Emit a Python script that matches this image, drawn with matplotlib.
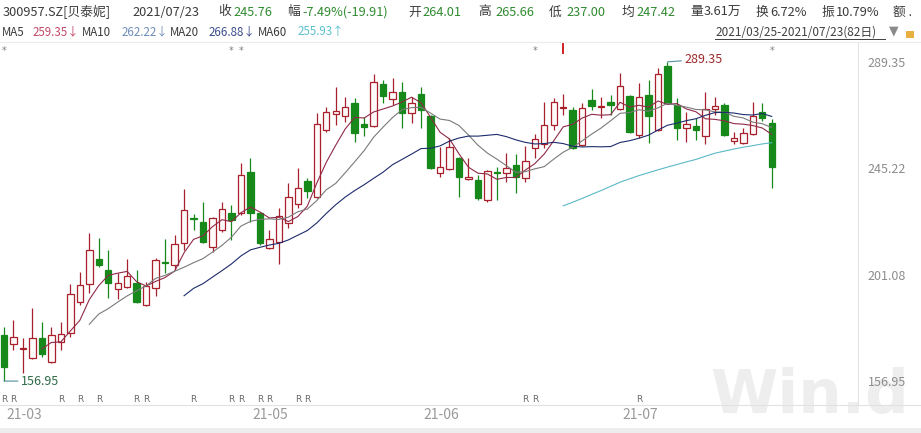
import numpy as np
import pandas as pd
import matplotlib
matplotlib.use('Agg')
import matplotlib.pyplot as plt
import matplotlib.transforms as mtransforms

plt.rcParams['font.family'] = ['Noto Sans CJK SC', 'DejaVu Sans']

# daily prices, 2021/03/25 - 2021/07/23 (82 days)
opens = [176.07, 172.34, 170.06, 166.53, 174.83, 164.87, 173.17, 176.90, 189.76, 197.23,
         207.60, 203.03, 195.15, 195.98, 197.64, 188.52, 195.57, 206.15, 205.11, 214.23,
         224.39, 222.94, 212.57, 219.63, 226.68, 226.68, 243.68, 226.68, 212.16, 214.65,
         222.53, 230.41, 239.95, 233.31, 261.11, 267.74, 266.91, 272.31, 263.60, 262.77,
         280.19, 273.96, 276.87, 268.16, 276.04, 266.91, 243.27, 244.93, 249.49, 240.78,
         240.37, 232.07, 243.48, 243.27, 246.59, 241.19, 253.64, 255.30, 263.18, 270.02,
         269.40, 254.88, 273.55, 270.44, 272.72, 269.82, 275.21, 259.03, 275.62, 261.11,
         287.65, 271.48, 261.94, 262.77, 258.62, 269.82, 271.48, 256.54, 255.71, 259.45,
         268.57, 264.01]
highs = [179.39, 182.29, 174.83, 187.27, 181.46, 179.39, 181.46, 197.23, 202.20, 218.38,
         216.31, 211.33, 201.79, 207.60, 203.03, 198.06, 208.01, 215.89, 217.55, 236.63,
         226.26, 231.24, 225.00, 231.24, 230.00, 247.42, 249.49, 227.10, 219.63, 228.75,
         239.12, 245.34, 241.19, 268.16, 270.65, 278.94, 274.79, 274.38, 266.50, 284.33,
         281.85, 282.68, 281.02, 274.79, 278.94, 267.30, 254.05, 257.79, 249.80, 249.49,
         242.44, 244.50, 245.76, 251.57, 251.15, 254.47, 259.45, 272.72, 274.38, 276.04,
         270.65, 272.31, 278.11, 274.79, 275.62, 284.75, 275.62, 280.60, 281.85, 286.82,
         289.35, 274.38, 268.57, 266.08, 276.87, 274.79, 272.31, 260.28, 261.94, 272.72,
         272.31, 265.66]
lows = [156.95, 169.85, 160.31, 166.20, 166.95, 164.46, 169.85, 175.24, 188.52, 193.50,
        204.28, 191.42, 191.00, 195.60, 189.35, 188.20, 192.25, 201.79, 203.03, 211.33,
        219.63, 214.23, 210.50, 218.80, 215.48, 225.85, 222.94, 213.40, 211.74, 205.52,
        220.46, 228.75, 232.90, 233.00, 260.28, 263.18, 264.42, 256.13, 258.62, 262.40,
        272.31, 271.48, 261.94, 264.01, 261.94, 245.00, 241.61, 244.60, 233.31, 240.37,
        232.07, 231.24, 232.07, 239.54, 234.97, 239.54, 249.49, 253.64, 261.11, 267.33,
        253.20, 254.47, 269.40, 266.08, 267.33, 269.40, 259.90, 257.79, 255.71, 260.70,
        272.00, 256.96, 256.13, 256.96, 255.30, 267.33, 258.62, 255.30, 255.30, 259.10,
        264.84, 237.00]
closes = [162.80, 175.24, 170.48, 174.83, 168.19, 176.07, 176.49, 193.08, 196.81, 211.33,
          205.11, 197.64, 197.64, 200.54, 189.76, 196.40, 207.18, 205.73, 213.82, 227.92,
          223.98, 214.65, 224.61, 228.34, 223.77, 242.44, 226.68, 214.23, 215.89, 225.43,
          233.31, 237.05, 235.80, 263.60, 268.57, 268.99, 270.65, 259.86, 262.35, 281.02,
          275.21, 276.87, 268.16, 272.31, 269.40, 245.34, 245.76, 254.05, 241.61, 241.61,
          232.90, 244.10, 243.06, 245.34, 241.61, 248.25, 257.37, 263.18, 272.72, 270.44,
          253.64, 270.23, 271.06, 270.85, 271.48, 279.36, 260.28, 274.79, 266.91, 284.33,
          272.31, 261.94, 263.60, 261.11, 269.82, 271.06, 259.03, 257.79, 259.86, 266.91,
          266.08, 245.76]

ma_windows = [5, 10, 20, 60]
ma_colors = ['#8e2a48', '#7a7a7a', '#1c2c6c', '#5cb8c8']

month_labels = ['21-03', '21-05', '21-06', '21-07']
month_pos = [0, 26, 44, 65]

r_days = [0, 1, 6, 8, 10, 14, 15, 20, 24, 25, 27, 28, 31, 32, 55, 56, 67]
star_days = [0, 24, 25, 56, 81]
red_mark_days = [59]

price_ticks = [156.95, 201.08, 245.22, 289.35]

W, H = 921, 433
fig = plt.figure(figsize=(W / 100, H / 100), dpi=100)

def px(x, y):
    return x / W, 1 - y / H

# plot area
ax = fig.add_axes([0, 1 - 405 / H, 858 / W, (405 - 42) / H])
ax.patch.set_alpha(0)

o = np.array(opens)
h = np.array(highs)
l = np.array(lows)
c = np.array(closes)
n = len(c)
x = np.arange(n)
up = c >= o

red = '#a8202c'
green = '#17881a'
ax.vlines(x[up], l[up], h[up], color=red, lw=0.9, zorder=2)
ax.vlines(x[~up], l[~up], h[~up], color=green, lw=0.9, zorder=2)
body_w = 0.68
bot = np.minimum(o, c)
hgt = np.maximum(np.abs(c - o), 0.25)
ax.bar(x[up], hgt[up], width=body_w, bottom=bot[up], facecolor='#fffafa',
       edgecolor=red, lw=0.9, zorder=3)
ax.bar(x[~up], hgt[~up], width=body_w, bottom=bot[~up], facecolor=green,
       edgecolor=green, lw=0.9, zorder=3)

s = pd.Series(closes)
for win, col in zip(ma_windows, ma_colors):
    ax.plot(x, s.rolling(win).mean(), color=col, lw=0.8, zorder=4)

ax.set_xlim(-0.42, 90.1)
ax.set_ylim(147.03, 297.6)

for sp in ['left', 'top', 'bottom']:
    ax.spines[sp].set_visible(False)
ax.spines['right'].set_color('#e4e4e4')
ax.spines['right'].set_linewidth(0.8)
ax.set_xticks([])
ax.yaxis.tick_right()
ax.set_yticks(price_ticks)
ax.set_yticklabels(['%.2f' % v for v in price_ticks])
ax.tick_params(axis='y', length=0, pad=7, labelsize=9, labelcolor='#8c8c8c')

# high / low notes
ax.annotate('289.35', xy=(70, 289.35), xytext=(12, 2), textcoords='offset points',
            color='#9c2a2a', fontsize=9, va='center',
            arrowprops=dict(arrowstyle='-', color='#4f8fa0', lw=0.8, shrinkA=0, shrinkB=0))
ax.annotate('156.95', xy=(0, 156.95), xytext=(12, 0), textcoords='offset points',
            color='#2f6a48', fontsize=9, va='center',
            arrowprops=dict(arrowstyle='-', color='#4f8fa0', lw=0.8, shrinkA=0, shrinkB=0))

# markers along top and bottom
trans = mtransforms.blended_transform_factory(ax.transData, ax.transAxes)
for d in star_days:
    ax.text(d, 0.99, '*', transform=trans, ha='center', va='top',
            fontsize=7, color='#808080', family='DejaVu Sans')
for d in red_mark_days:
    ax.plot([d, d], [0.995, 0.97], transform=trans, color='#d02020', lw=1.4)
for d in r_days:
    ax.text(d, 0.003, 'R', transform=trans, ha='center', va='bottom',
            fontsize=6.5, color='#6a6a6a', family='DejaVu Sans')

# frame lines
fig.add_artist(plt.Line2D([0, 1], [1 - 42 / H] * 2, color='#ececec', lw=0.8))
fig.add_artist(plt.Line2D([0, 1], [1 - 405 / H] * 2, color='#e2e2e2', lw=0.8))
fig.add_artist(plt.Rectangle((0, 0), 1, 5 / H, color='#ededed', lw=0))

# month labels
for lab, pos in zip(month_labels, month_pos):
    xf = ax.transData.transform((pos, 0))[0] / fig.dpi / fig.get_figwidth()
    fig.text(xf + 2 / W, 1 - 415 / H, lab, fontsize=10, color='#9a9a9a', va='center')

# watermark
fig.text(*px(710, 396), 'Win.d', fontsize=44, fontweight='bold', color='#eeeeee',
         va='center', ha='left', family='DejaVu Sans', zorder=-5)

# header line 1
dark = '#3a3a3a'
gval = '#2f8a2f'
row1 = [(3, '300957.SZ[贝泰妮]', dark), (132, '2021/07/23', dark),
        (218, '收', dark), (233, '245.76', gval),
        (287, '幅', dark), (302, '-7.49%(-19.91)', gval),
        (408, '开', dark), (422, '264.01', gval),
        (478, '高', dark), (495, '265.66', gval),
        (549, '低', dark), (566, '237.00', gval),
        (622, '均', dark), (636, '247.42', gval),
        (690, '量', dark), (704, '3.61万', dark),
        (756, '换', dark), (770, '6.72%', dark),
        (822, '振', dark), (836, '10.79%', dark),
        (893, '额 .', dark)]
for xx, t, col in row1:
    fig.text(*px(xx, 12), t, fontsize=9.2, color=col, va='center')

row2 = [(2, 'MA5', dark), (33, '259.35↓', '#c24a68'),
        (82, 'MA10', dark), (122, '262.22↓', '#6f8db8'),
        (170, 'MA20', dark), (209, '266.88↓', '#3c4c8c'),
        (258, 'MA60', dark), (298, '255.93↑', '#5cc0d0')]
for xx, t, col in row2:
    fig.text(*px(xx, 32), t, fontsize=8.3, color=col, va='center')

fig.text(*px(715, 32), '2021/03/25-2021/07/23(82日)', fontsize=8.5, color='#404040',
         va='center')
fig.add_artist(plt.Line2D([715 / W, 885 / W], [1 - 39 / H] * 2, color='#404040', lw=0.7))
fig.text(*px(889, 31), '▼', fontsize=9, color='#8a8a8a', va='center', family='DejaVu Sans')
fig.add_artist(plt.Rectangle(px(906, 38), 8 / W, 7 / H, color='#e8b040', lw=0))

fig.savefig('out.png', dpi=100)
